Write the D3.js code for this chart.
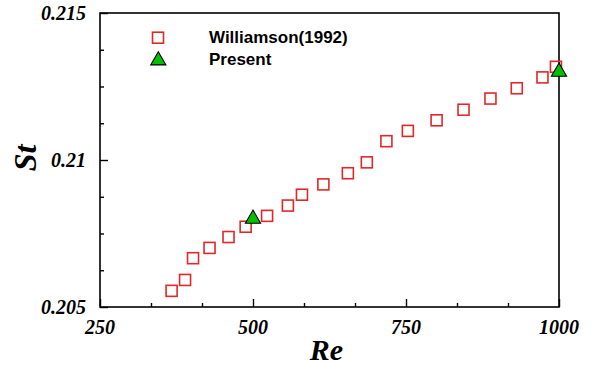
<!DOCTYPE html>
<html>
<head>
<meta charset="utf-8">
<script src="https://cdn.jsdelivr.net/npm/d3@7"></script>
<style>
  html, body { margin: 0; padding: 0; background: #fff; }
  svg { display: block; }
</style>
</head>
<body>
<svg id="chart" width="595" height="366"></svg>
<script>
// ---- data ----
const williamsonRe = [367, 389, 402, 429, 460, 488, 523, 557, 580, 615, 655, 686, 718, 753, 800, 844, 888, 931, 973, 995];
const williamsonSt = [0.20555, 0.20592, 0.20666, 0.20701, 0.20738, 0.20773, 0.20810, 0.20845, 0.20882, 0.20917, 0.20955, 0.20992, 0.21064, 0.21099, 0.21135, 0.21171, 0.21209, 0.21244, 0.21281, 0.21317];
const presentRe = [500, 1000];
const presentSt = [0.2080, 0.2130];
const xTickValues = [250, 500, 750, 1000];
const xTickLabels = ["250", "500", "750", "1000"];
const xMinorTicks = [333.33, 416.67, 583.33, 666.67, 833.33, 916.67];
const yTickValues = [0.205, 0.21, 0.215];
const yTickLabels = ["0.205", "0.21", "0.215"];
const yMinorTicks = [0.20625, 0.2075, 0.20875, 0.21125, 0.2125, 0.21375];
const seriesNames = ["Williamson(1992)", "Present"];

// ---- layout ----
const L = 100, R = 559, T = 13, B = 307;
const x = d3.scaleLinear().domain([250, 1000]).range([L, R]);
const y = d3.scaleLinear().domain([0.205, 0.215]).range([B, T]);

const svg = d3.select("#chart");
const serif = "'Liberation Serif', 'Times New Roman', serif";
const sans = "'Liberation Sans', Arial, sans-serif";

// frame
svg.append("rect").attr("x", L).attr("y", T).attr("width", R - L).attr("height", B - T)
  .attr("fill", "none").attr("stroke", "#000").attr("stroke-width", 1.6);

// axes (inward ticks)
const gx = svg.append("g").attr("transform", `translate(0,${B})`)
  .call(d3.axisBottom(x).tickValues(xTickValues).tickSize(-8).tickFormat(""));
const gxm = svg.append("g").attr("transform", `translate(0,${B})`)
  .call(d3.axisBottom(x).tickValues(xMinorTicks).tickSize(-4).tickFormat(""));
const gy = svg.append("g").attr("transform", `translate(${L},0)`)
  .call(d3.axisLeft(y).tickValues(yTickValues).tickSize(-8).tickFormat(""));
const gym = svg.append("g").attr("transform", `translate(${L},0)`)
  .call(d3.axisLeft(y).tickValues(yMinorTicks).tickSize(-4).tickFormat(""));
[gx, gxm, gy, gym].forEach(g => {
  g.select(".domain").remove();
  g.selectAll(".tick line").attr("stroke", "#000").attr("stroke-width", 1.4);
});

// tick labels
svg.append("g").selectAll("text").data(xTickValues).join("text")
  .attr("x", d => x(d)).attr("y", B + 27)
  .attr("text-anchor", "middle")
  .attr("font-family", serif).attr("font-weight", "bold").attr("font-style", "italic")
  .attr("font-size", 20).attr("fill", "#000")
  .text((d, i) => xTickLabels[i]);

svg.append("g").selectAll("text").data(yTickValues).join("text")
  .attr("x", 86).attr("y", d => y(d) + 7)
  .attr("text-anchor", "end")
  .attr("font-family", serif).attr("font-weight", "bold").attr("font-style", "italic")
  .attr("font-size", 20).attr("fill", "#000")
  .text((d, i) => yTickLabels[i]);

// axis titles
svg.append("text").attr("x", (L + R) / 2 - 3).attr("y", 360)
  .attr("text-anchor", "middle")
  .attr("font-family", serif).attr("font-weight", "bold").attr("font-style", "italic")
  .attr("font-size", 30).attr("fill", "#000").text("Re");

svg.append("text").attr("transform", "translate(36,158) rotate(-90)")
  .attr("text-anchor", "middle")
  .attr("font-family", serif).attr("font-weight", "bold").attr("font-style", "italic")
  .attr("font-size", 32).attr("fill", "#000").text("St");

// markers
const sq = 11;
const squareColor = "#e02828";
const triPath = d3.symbol().type(d3.symbolTriangle).size(100)();

svg.append("g").selectAll("rect").data(williamsonRe).join("rect")
  .attr("x", d => x(d) - sq / 2)
  .attr("y", (d, i) => y(williamsonSt[i]) - sq / 2)
  .attr("width", sq).attr("height", sq)
  .attr("fill", "none").attr("stroke", squareColor).attr("stroke-width", 1.6);

svg.append("g").selectAll("path").data(presentRe).join("path")
  .attr("d", triPath)
  .attr("transform", (d, i) => `translate(${x(d)},${y(presentSt[i])})`)
  .attr("fill", "#00c000").attr("stroke", "#000").attr("stroke-width", 1.1);

// legend
svg.append("rect").attr("x", 158 - sq / 2).attr("y", 37.7 - sq / 2)
  .attr("width", sq).attr("height", sq)
  .attr("fill", "none").attr("stroke", squareColor).attr("stroke-width", 1.6);
svg.append("path").attr("d", triPath).attr("transform", "translate(158.3,60.5)")
  .attr("fill", "#00c000").attr("stroke", "#000").attr("stroke-width", 1.1);

svg.append("g").selectAll("text").data(seriesNames).join("text")
  .attr("x", 209).attr("y", (d, i) => 43 + i * 21.5)
  .attr("font-family", sans).attr("font-weight", "bold")
  .attr("font-size", 17).attr("fill", "#000")
  .text(d => d);
</script>
</body>
</html>
